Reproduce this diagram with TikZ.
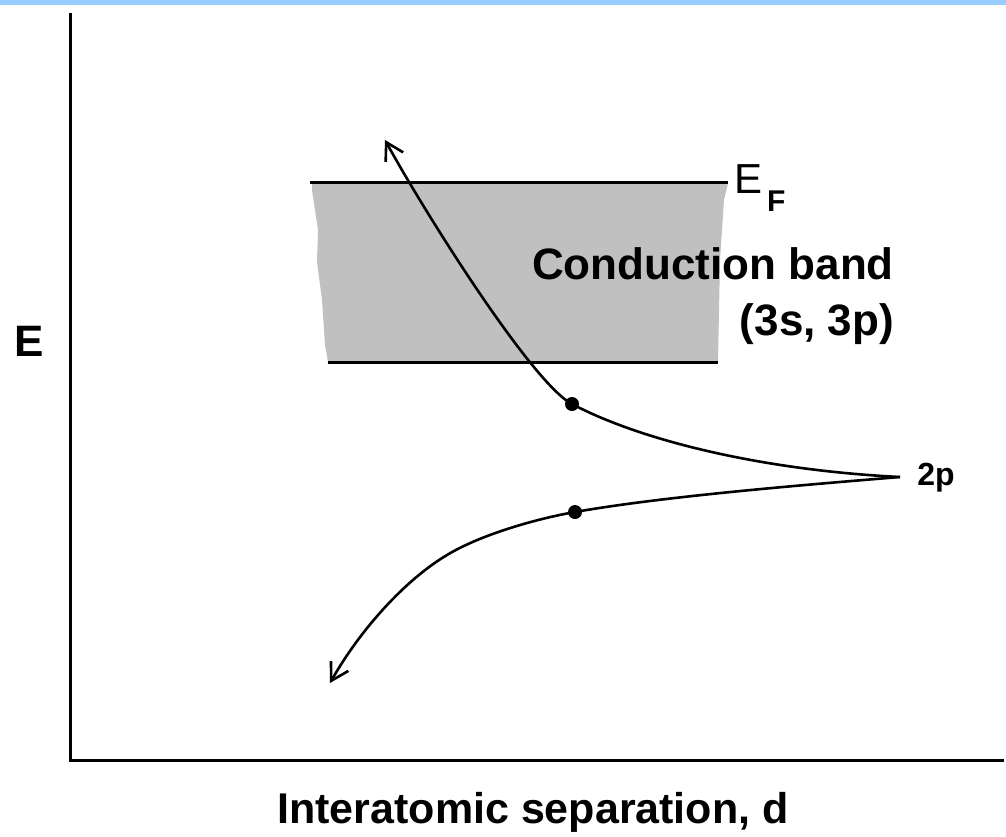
\documentclass[tikz,border=0pt]{standalone}
\usepackage{fontspec}
\setmainfont{Liberation Sans}
\usetikzlibrary{positioning, arrows.meta}
\definecolor{bandgray}{HTML}{C0C0C0}
\definecolor{topblue}{HTML}{99CCFF}

\begin{document}
\begin{tikzpicture}[
    x=1pt, y=-1pt,
    >={Straight Barb[length=17pt, width=20pt]},
    axisline/.style={line width=3pt},
    bandline/.style={line width=3pt},
    level/.style={line width=2.6pt, line join=miter},
    lbl/.style={inner sep=0pt, font=\fontsize{44}{50}\selectfont\bfseries},
    state/.style={circle, fill, inner sep=0pt, minimum size=14pt},
]
\useasboundingbox (0,0) rectangle (1006,836);
\fill[topblue] (0,0) rectangle (1006,5);

% ── Axes ──
\coordinate (origin) at (70,760);
\draw[axisline] (70,13) -- (origin) -- (1004,760);
\node[lbl, anchor=base] (elabel) at (29,356) {E};
\node[lbl, anchor=base, font=\fontsize{43}{48}\selectfont\bfseries] (dlabel) at (533,823) {Interatomic separation, d};

% ── Conduction band ──
\fill[bandgray] (312,183) -- (728,183) -- (724,200) -- (720,260) -- (718,362)
    -- (328,362) -- (325,345) -- (322,300) -- (317,262) -- (318,230) -- (312,190) -- cycle;
\draw[bandline] (310,182) -- (728,182);
\draw[bandline] (328,362) -- (718,362);
\node[inner sep=0pt, anchor=base west, font=\fontsize{42}{46}\selectfont] (efermi) at (734,193)
    {E\kern5pt\raisebox{-18pt}{\bfseries\fontsize{30}{32}\selectfont F}};
\node[lbl, anchor=base] (cband) at (713,279) {Conduction band};
\node[lbl, anchor=base] (cbandorb) at (817,335) {(3s, 3p)};

% ── 2p level splitting ──
\coordinate (cusp) at (900,477);
\coordinate (up) at (572,404);
\coordinate (low) at (575,512);
\coordinate (tipup) at (385,140);
\coordinate (tiplow) at (330,683);
\draw[level, ->] (cusp) .. controls (760,470) and (640,440) .. (up)
    .. controls (532,383) and (425,213) .. (tipup);
\draw[level, ->] (cusp) .. controls (790,486) and (660,497) .. (low)
    .. controls (535,519) and (480,535) .. (447,555)
    .. controls (405,580) and (360,630) .. (tiplow);
\node[state] (dotup) at (up) {};
\node[state] (dotlow) at (low) {};
\node[inner sep=0pt, anchor=base, font=\fontsize{32}{36}\selectfont\bfseries] (plabel) at (936,485) {2p};

\end{tikzpicture}
\end{document}
